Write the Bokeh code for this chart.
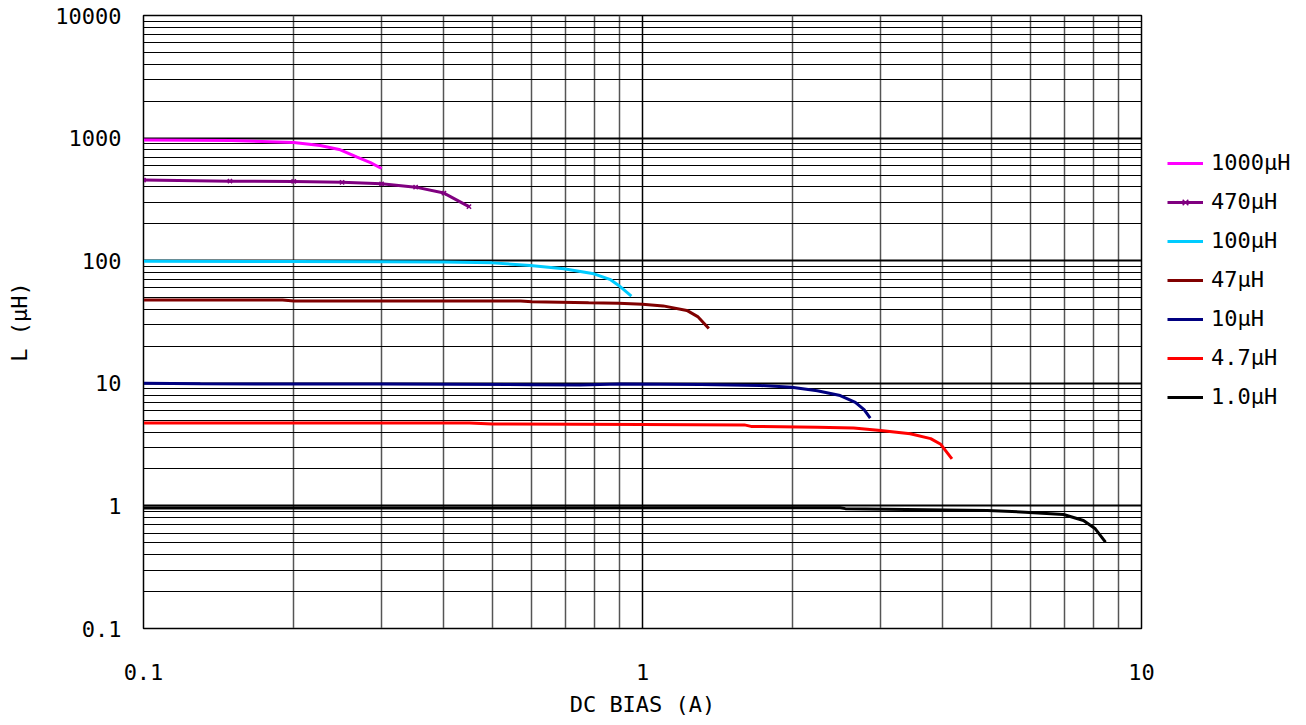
from bokeh.plotting import figure
from bokeh.models import Range1d, FixedTicker, Legend, LegendItem
from bokeh.embed import file_html
from bokeh.resources import INLINE

# ---- data ----
x_ticks = [0.1, 1, 10]
x_tick_labels = ["0.1", "1", "10"]
y_ticks = [0.1, 1, 10, 100, 1000, 10000]
y_tick_labels = ["0.1", "1", "10", "100", "1000", "10000"]

names = ["1000μH", "470μH", "100μH", "47μH", "10μH", "4.7μH", "1.0μH"]
colors = ["#FF00FF", "#800080", "#00CCFF", "#800000", "#000080", "#FF0000", "#000000"]

x_1000 = [0.1, 0.15, 0.2, 0.226, 0.248, 0.268, 0.285, 0.3]
L_1000 = [965, 955, 920, 869, 803, 700, 630, 565]

x_470 = [0.1, 0.149, 0.2, 0.25, 0.3, 0.351, 0.4, 0.449]
L_470 = [455, 445, 443, 436, 424, 398, 356, 276]

x_100 = [0.1, 0.2, 0.3, 0.4, 0.5, 0.596, 0.695, 0.799, 0.863, 0.896, 0.95]
L_100 = [99, 98.5, 98, 97.5, 96, 91.4, 86, 78.2, 70, 62.8, 51.5]

x_47 = [0.1, 0.19, 0.2, 0.57, 0.6, 0.78, 0.895, 1.0, 1.1, 1.227, 1.29, 1.358]
L_47 = [47.8, 47.8, 47.0, 47.0, 46.2, 45.4, 45.0, 44.2, 42.8, 39.3, 35.0, 28.0]

x_10 = [0.1, 0.13, 0.3, 0.6, 0.75, 0.9, 1.31, 1.72, 1.99, 2.24, 2.49, 2.67, 2.78, 2.86]
L_10 = [10.0, 9.9, 9.85, 9.75, 9.7, 9.85, 9.8, 9.6, 9.3, 8.7, 7.95, 7.0, 6.1, 5.2]

x_4p7 = [0.1, 0.45, 0.5, 1.0, 1.6, 1.65, 2.24, 2.65, 3.0, 3.44, 3.78, 3.96, 4.17]
L_4p7 = [4.75, 4.75, 4.65, 4.62, 4.58, 4.45, 4.39, 4.31, 4.13, 3.88, 3.54, 3.18, 2.42]

x_1p0 = [0.1, 1.31, 2.49, 2.55, 4.91, 5.85, 6.98, 7.65, 8.08, 8.47]
L_1p0 = [0.96, 0.965, 0.965, 0.95, 0.917, 0.889, 0.85, 0.76, 0.65, 0.506]

series_x = [x_1000, x_470, x_100, x_47, x_10, x_4p7, x_1p0]
series_L = [L_1000, L_470, L_100, L_47, L_10, L_4p7, L_1p0]

FONT = "DejaVu Sans Mono"
FS = "22px"

p = figure(frame_width=998, frame_height=613, x_axis_type="log", y_axis_type="log",
           x_range=Range1d(0.1, 10), y_range=Range1d(0.1, 10000),
           output_backend="svg", toolbar_location=None,
           min_border_left=143, min_border_right=10,
           min_border_top=15, min_border_bottom=89)

x_minor = [m * 10 ** k for k in (-1, 0) for m in range(2, 10)]
y_minor = [m * 10 ** k for k in (-1, 0, 1, 2, 3) for m in range(2, 10)]
p.xaxis.ticker = FixedTicker(ticks=x_ticks, minor_ticks=x_minor)
p.yaxis.ticker = FixedTicker(ticks=y_ticks, minor_ticks=y_minor)
p.xaxis.major_label_overrides = {t: l for t, l in zip(x_ticks, x_tick_labels)}
p.yaxis.major_label_overrides = {t: l for t, l in zip(y_ticks, y_tick_labels)}

for ax in (p.xaxis, p.yaxis):
    ax.major_tick_out = 0
    ax.major_tick_in = 0
    ax.minor_tick_out = 0
    ax.minor_tick_in = 0
    ax.axis_line_color = "black"
    ax.major_label_text_font = FONT
    ax.major_label_text_font_size = FS
    ax.major_label_text_color = "black"
    ax.axis_label_text_font = FONT
    ax.axis_label_text_font_size = FS
    ax.axis_label_text_font_style = "normal"
    ax.axis_label_text_color = "black"

p.xaxis.axis_label = "DC BIAS (A)"
p.yaxis.axis_label = "L (μH)"
p.xaxis.major_label_standoff = 35
p.xaxis.axis_label_standoff = 9
p.yaxis.major_label_standoff = 22
p.yaxis.axis_label_standoff = 20

p.xgrid.grid_line_color = "black"
p.xgrid.grid_line_width = 1.5
p.xgrid.minor_grid_line_color = "#555555"
p.xgrid.minor_grid_line_width = 1.5
p.ygrid.grid_line_color = "black"
p.ygrid.grid_line_width = 2
p.ygrid.minor_grid_line_color = "black"
p.ygrid.minor_grid_line_width = 1

p.outline_line_color = "black"
p.outline_line_width = 1.5
p.background_fill_color = "white"
p.border_fill_color = "white"

items = []
for name, c, xs, Ls in zip(names, colors, series_x, series_L):
    r = p.line(xs, Ls, line_color=c, line_width=3)
    rs = [r]
    if name == "470μH":
        s = p.scatter(xs, Ls, marker="x", size=6, line_color=c, line_width=1.5)
        rs.append(s)
    items.append(LegendItem(label=name, renderers=rs))

legend = Legend(items=items, location=(26, 219), orientation="vertical",
                glyph_width=36, glyph_height=20, label_height=20, spacing=14,
                label_standoff=8, padding=0, margin=0,
                label_text_font=FONT, label_text_font_size=FS,
                label_text_color="black",
                border_line_color=None, background_fill_alpha=0)
p.add_layout(legend, "right")

open("out.html", "w").write(file_html(p, INLINE))
